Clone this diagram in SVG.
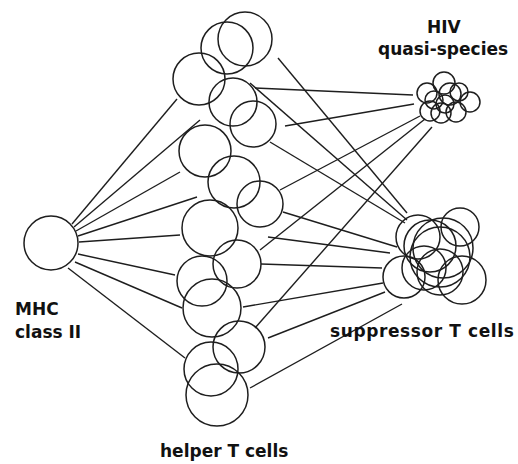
<svg xmlns="http://www.w3.org/2000/svg" width="518" height="464" viewBox="0 0 518 464">
<style>
.c{fill:none;stroke:#1e1e1e;stroke-width:1.5}
.l{stroke:#1e1e1e;stroke-width:1.4;fill:none}
.t{font-family:"DejaVu Sans",Verdana,sans-serif;font-weight:bold;font-size:17px;fill:#111}
</style>
<rect width="518" height="464" fill="#fff"/>
<g id="connectors">
<line class="l" x1="72" y1="224" x2="177" y2="99"/>
<line class="l" x1="74" y1="227" x2="200" y2="120"/>
<line class="l" x1="76" y1="231" x2="180" y2="172"/>
<line class="l" x1="78" y1="236" x2="197" y2="197"/>
<line class="l" x1="79" y1="242" x2="180" y2="235"/>
<line class="l" x1="78" y1="254" x2="175" y2="275"/>
<line class="l" x1="75" y1="262" x2="182" y2="308"/>
<line class="l" x1="68" y1="268" x2="185" y2="358"/>
<line class="l" x1="255" y1="88" x2="413" y2="95"/>
<line class="l" x1="285" y1="126" x2="414" y2="104"/>
<line class="l" x1="280" y1="190" x2="420" y2="116"/>
<line class="l" x1="260" y1="250" x2="425" y2="119"/>
<line class="l" x1="255" y1="328" x2="432" y2="127"/>
<line class="l" x1="278" y1="58" x2="407" y2="213"/>
<line class="l" x1="250" y1="83" x2="407" y2="220"/>
<line class="l" x1="270" y1="142" x2="405" y2="223"/>
<line class="l" x1="283" y1="212" x2="397" y2="247"/>
<line class="l" x1="268" y1="237" x2="390" y2="253"/>
<line class="l" x1="261" y1="264" x2="382" y2="268"/>
<line class="l" x1="243" y1="307" x2="383" y2="283"/>
<line class="l" x1="268" y1="338" x2="385" y2="292"/>
<line class="l" x1="250" y1="388" x2="402" y2="304"/>
</g>
<g id="mhc">
<circle class="c" cx="51" cy="243" r="27"/>
<text class="t" x="15" y="315">MHC</text>
<text class="t" x="15" y="338">class II</text>
</g>
<g id="helper">
<circle class="c" cx="245" cy="39" r="27"/>
<circle class="c" cx="227" cy="48" r="26"/>
<circle class="c" cx="199" cy="79" r="26"/>
<circle class="c" cx="233" cy="102" r="24"/>
<circle class="c" cx="253" cy="124" r="23"/>
<circle class="c" cx="205" cy="151" r="26"/>
<circle class="c" cx="234" cy="182" r="26"/>
<circle class="c" cx="260" cy="204" r="23"/>
<circle class="c" cx="210" cy="228" r="28"/>
<circle class="c" cx="237" cy="264" r="24"/>
<circle class="c" cx="202" cy="281" r="25"/>
<circle class="c" cx="212" cy="308" r="29"/>
<circle class="c" cx="239" cy="347" r="26"/>
<circle class="c" cx="211" cy="369" r="27"/>
<circle class="c" cx="217" cy="395" r="31"/>
<text class="t" x="160" y="457">helper T cells</text>
</g>
<g id="hiv">
<circle class="c" cx="444" cy="83" r="11"/>
<circle class="c" cx="427" cy="93" r="10"/>
<circle class="c" cx="470" cy="102" r="10"/>
<circle class="c" cx="430" cy="111" r="10"/>
<circle class="c" cx="441" cy="113" r="10"/>
<circle class="c" cx="456" cy="112" r="10"/>
<circle class="c" cx="450" cy="94" r="11"/>
<circle class="c" cx="434" cy="100" r="9"/>
<circle class="c" cx="459" cy="92" r="9"/>
<circle class="c" cx="445" cy="104" r="9"/>
<text class="t" x="427" y="33">HIV</text>
<text class="t" x="378" y="55">quasi-species</text>
</g>
<g id="suppressor">
<circle class="c" cx="460" cy="227" r="19"/>
<circle class="c" cx="418" cy="237" r="22"/>
<circle class="c" cx="404" cy="277" r="21"/>
<circle class="c" cx="462" cy="280" r="24"/>
<circle class="c" cx="430" cy="246" r="26"/>
<circle class="c" cx="443" cy="248" r="30"/>
<circle class="c" cx="424" cy="268" r="22"/>
<circle class="c" cx="440" cy="272" r="23"/>
<circle class="c" cx="440" cy="257" r="30"/>
<text class="t" x="330" y="337" letter-spacing="0.6">suppressor T cells</text>
</g>
</svg>
